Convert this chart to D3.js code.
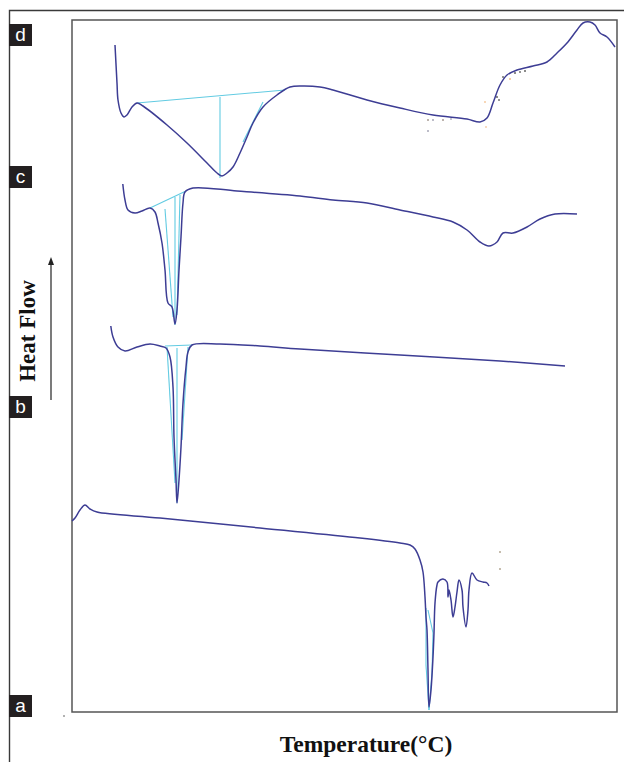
<!DOCTYPE html>
<html>
<head>
<meta charset="utf-8">
<script src="https://cdn.jsdelivr.net/npm/d3@7"></script>
<style>
  body { margin: 0; background: #fff; }
  svg { display: block; }
</style>
</head>
<body>
<div id="chart-area"></div>
<script>
// DSC thermograms (temperature in degC, heat flow in arbitrary units)

// curve d
var tempD = [46.5, 47.5, 48, 49.5, 51, 52.5, 55, 57.5, 60.5, 72.5, 82.5, 92.5, 97.5, 100, 102.5, 105.5, 109, 112.5, 115.5, 120.5,
             127.5, 134, 140.5, 149, 155.5, 172.5, 189, 205.5, 222.5, 229, 232.5, 235.5, 239, 242.5, 247.5, 255.5, 262.5, 267.5,
             272.5, 277.5, 280.5, 284, 286.5, 289, 292.5, 296.5];
var flowD = [66.7, 62.9, 61.2, 59.9, 59.5, 59.7, 60.5, 60.9, 60.6, 58.7, 56.9, 54.9, 53.9, 53.6, 53.9, 54.5, 55.9, 57.5, 58.9, 60.5,
             61.7, 62.5, 62.6, 62.5, 62.2, 61.2, 60.4, 59.7, 59.3, 59.0, 59.4, 60.9, 62.7, 63.7, 64.2, 64.6, 65.0, 65.9,
             66.9, 68.2, 68.9, 69.0, 68.7, 67.9, 67.5, 66.5];

// curve c
var tempC = [50.4, 51.5, 53, 56.5, 60, 64, 66.5, 68, 70, 71.5, 73, 75, 76.5, 77.5, 78.5, 79.5, 80.5, 81.5, 85.5, 107.5,
             139, 155.5, 172.5, 189, 205.5, 215.5, 222.5, 229, 233.5, 237.5, 240.5, 245.5, 252.5, 259, 266.5, 277.5];
var flowC = [52.8, 51.2, 50.2, 49.9, 50.1, 50.4, 50.0, 48.9, 46.9, 44.2, 40.9, 40.5, 38.8, 40.2, 44.2, 47.5, 50.9, 52.0, 52.4, 52.1,
             51.6, 51.2, 50.9, 50.2, 49.5, 49.0, 48.2, 47.0, 46.6, 47.0, 47.9, 47.9, 48.5, 49.3, 49.8, 49.8];

// curve b
var tempB = [44.4, 45.5, 48, 51.5, 57.5, 64, 69, 72, 74, 75.5, 76, 77, 77.5, 78.5, 79.5, 80.5, 82, 83, 85, 99,
             119, 139, 189, 239, 271.5];
var flowB = [38.6, 37.5, 36.5, 36.1, 36.5, 36.8, 36.6, 36.4, 35.5, 32.5, 27.5, 23.2, 20.9, 23.2, 26.5, 30.9, 34.5, 36.0, 36.7, 36.8,
             36.6, 36.3, 35.7, 35.1, 34.6];

// curve a
var tempA = [25, 26.5, 29, 31.5, 34, 37.5, 69, 119, 169, 189, 194, 196.5, 199, 200.5, 201.5, 202, 202.5, 203, 203.5, 204.5,
             205.5, 206, 206.5, 207.5, 208, 210.5, 212.5, 213, 213.5, 214.5, 215.5, 216.5, 217.5, 218.5, 220, 220.5, 222, 223,
             223.5, 225, 227.5, 230.5, 232.5, 233.5];
var flowA = [19.1, 19.4, 20.2, 20.7, 20.3, 20.0, 19.4, 18.4, 17.4, 16.9, 16.7, 16.3, 15.2, 14.0, 11.5, 9.5, 8.2, 4.2, 0.5, 2.2,
             5.5, 7.9, 10.9, 12.7, 13.0, 13.3, 13.0, 11.5, 12.2, 11.2, 9.5, 10.5, 12.0, 13.2, 12.2, 10.5, 8.5, 10.2,
             12.2, 13.9, 13.2, 13.0, 12.9, 12.6];

// cyan peak-analysis construction lines: [t1, f1, t2, f2]
var fitD = [[57.5, 60.9, 131.5, 62.2], [99, 61.5, 99, 53.4], [110.5, 57.0, 120.5, 61.0]];
var fitC = [[64, 50.4, 82, 52.1], [71.5, 50.3, 75.5, 39.5], [76.5, 51.5, 76.5, 38.7], [79, 51.7, 77.5, 39.7]];
var fitB = [[71.5, 36.6, 85, 36.7], [72.5, 36.5, 76.5, 22.9], [77.5, 36.4, 77.5, 20.9], [83, 36.5, 80, 27.2]];
var fitA = [[202, 10.4, 202, 4.7], [202, 4.7, 203.5, 0.2], [203, 10.2, 205.5, 7.9], [205.5, 7.9, 205, 3.9], [205, 3.9, 203.5, 0.2]];

// stray specks in the scan
var speckTemp = [203, 205.5, 210.5, 214.5, 203, 231.5, 232, 237.5, 238.5, 240.5, 244, 246.5, 249, 251.5, 239, 239, 21];
var speckFlow = [59.2, 59.2, 59.2, 59.3, 58.1, 61.0, 58.5, 61.5, 61.2, 63.5, 63.3, 63.9, 64.0, 64.1, 16.0, 14.3, -0.4];
var speckColor = ["#8a7a70", "#8a8aa0", "#8a7a70", "#9a9ab0", "#8a8aa0", "#f3b880", "#f5c090", "#333", "#444", "#444", "#f0a868", "#333", "#444", "#333", "#9a8a70", "#9a8a70", "#777"];

var curveLabels = ["d", "c", "b", "a"];
var labelTop = [24, 166, 396, 695];

var W = 624, H = 762;
var box = { left: 72, top: 20, right: 617, bottom: 712 };
var lineColor = "#3d3d94", fitColor = "#62cbe2";

var svg = d3.select("#chart-area").append("svg")
    .attr("width", W)
    .attr("height", H);

// scales: 2 px per degree, 10 px per heat-flow unit
var x = d3.scaleLinear().domain([25, 297.5]).range([box.left, box.right]);
var y = d3.scaleLinear().domain([0, 69.2]).range([box.bottom, box.top]);

// outer frame (only top and left edges show)
svg.append("path")
    .attr("d", "M9.5,762V10.5H624")
    .attr("fill", "none")
    .attr("stroke", "#3a3a3a")
    .attr("stroke-width", 1.4);

// plot box
svg.append("rect")
    .attr("x", box.left)
    .attr("y", box.top)
    .attr("width", box.right - box.left)
    .attr("height", box.bottom - box.top)
    .attr("fill", "none")
    .attr("stroke", "#555")
    .attr("stroke-width", 1.5);

var line = d3.line()
    .x(function(d) { return x(d[0]); })
    .y(function(d) { return y(d[1]); })
    .curve(d3.curveCatmullRom.alpha(0.5));

function zip(t, f) {
    return t.map(function(v, i) { return [v, f[i]]; });
}

var fits = [fitD, fitC, fitB, fitA];
fits.forEach(function(set) {
    svg.append("g").selectAll("line").data(set).enter()
        .append("line")
        .attr("x1", function(d) { return x(d[0]); })
        .attr("y1", function(d) { return y(d[1]); })
        .attr("x2", function(d) { return x(d[2]); })
        .attr("y2", function(d) { return y(d[3]); })
        .attr("stroke", fitColor)
        .attr("stroke-width", 1.1);
});

var curves = [zip(tempD, flowD), zip(tempC, flowC), zip(tempB, flowB), zip(tempA, flowA)];
svg.append("g").selectAll("path").data(curves).enter()
    .append("path")
    .attr("d", line)
    .attr("fill", "none")
    .attr("stroke", lineColor)
    .attr("stroke-width", 1.5)
    .attr("stroke-linejoin", "round");

svg.append("g").selectAll("rect").data(speckTemp).enter()
    .append("rect")
    .attr("x", function(d) { return x(d) - 0.75; })
    .attr("y", function(d, i) { return y(speckFlow[i]) - 0.75; })
    .attr("width", 1.5)
    .attr("height", 1.5)
    .attr("fill", function(d, i) { return speckColor[i]; });

// curve tags
var tags = svg.append("g").selectAll("g").data(curveLabels).enter()
    .append("g")
    .attr("transform", function(d, i) { return "translate(9," + labelTop[i] + ")"; });
tags.append("rect")
    .attr("width", 23)
    .attr("height", 22)
    .attr("fill", "#231f20");
tags.append("text")
    .attr("x", 11.5)
    .attr("y", 17)
    .attr("text-anchor", "middle")
    .attr("fill", "#fff")
    .attr("font-family", "Liberation Sans, Arial, sans-serif")
    .attr("font-size", "19px")
    .text(function(d) { return d; });

// axis titles
svg.append("text")
    .attr("x", 366)
    .attr("y", 752)
    .attr("text-anchor", "middle")
    .attr("font-family", "Liberation Serif, Times New Roman, serif")
    .attr("font-weight", "bold")
    .attr("font-size", "23.5px")
    .attr("fill", "#111")
    .text("Temperature(°C)");

svg.append("text")
    .attr("transform", "translate(35,331) rotate(-90)")
    .attr("text-anchor", "middle")
    .attr("font-family", "Liberation Serif, Times New Roman, serif")
    .attr("font-weight", "bold")
    .attr("font-size", "23px")
    .attr("fill", "#111")
    .text("Heat Flow");

// heat-flow arrow
svg.append("line")
    .attr("x1", 51).attr("y1", 400)
    .attr("x2", 51).attr("y2", 262)
    .attr("stroke", "#222")
    .attr("stroke-width", 1.2);
svg.append("path")
    .attr("d", "M51,257L48,265L54,265Z")
    .attr("fill", "#222");
</script>
</body>
</html>
